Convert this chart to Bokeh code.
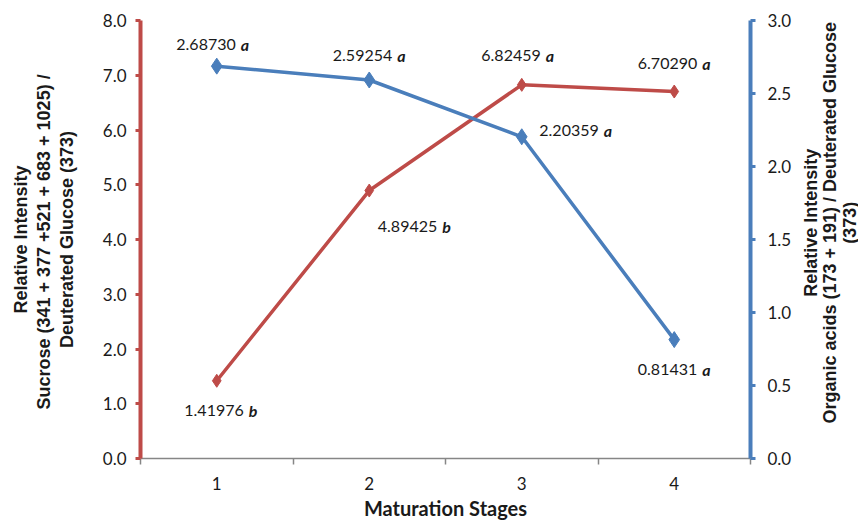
import math
from bokeh.plotting import figure
from bokeh.layouts import row
from bokeh.models import Range1d, LinearAxis, FixedTicker, NumeralTickFormatter, ColumnDataSource
from bokeh.core.properties import value
from bokeh.embed import file_html
from bokeh.resources import INLINE

# ---- data ----
stages = [1, 2, 3, 4]
stage_labels = ["1", "2", "3", "4"]
sucrose = [1.41976, 4.89425, 6.82459, 6.70290]
sucrose_sig = ["b", "b", "a", "a"]
organic = [2.68730, 2.59254, 2.20359, 0.81431]
organic_sig = ["a", "a", "a", "a"]
left_ticks = [0, 1, 2, 3, 4, 5, 6, 7, 8]
right_ticks = [0, 0.5, 1.0, 1.5, 2.0, 2.5, 3.0]
right_title = ["Relative Intensity", "Organic acids (173 + 191) / Deuterated Glucose", "(373)"]

# label placement (screen px)
suc_dx = [27, 68, 19, 23]
suc_dy = [30, 36, -29, -28]
org_dx = [19, 23, 77, 23]
org_dy = [-22, -24, -6, 30]

RED = "#BE4B48"
BLUE = "#4A7EBB"
TXT = "#1a1a1a"

W_MAIN, W_SIDE, H = 794, 64, 522

p = figure(width=W_MAIN, height=H, x_range=Range1d(0.5, 4.5), y_range=Range1d(0, 8),
           output_backend="svg", toolbar_location=None,
           min_border_left=140, min_border_right=44, min_border_top=20, min_border_bottom=63)
p.extra_y_ranges = {"right": Range1d(0, 3)}
p.grid.visible = False
p.outline_line_color = None

# bottom axis
xa = p.xaxis[0]
xa.ticker = FixedTicker(ticks=stages, minor_ticks=[0.5, 1.5, 2.5, 3.5, 4.5])
xa.major_label_overrides = {s: l for s, l in zip(stages, stage_labels)}
xa.major_tick_line_color = None
xa.major_tick_out = 0
xa.major_tick_in = 0
xa.minor_tick_line_color = "#868686"
xa.minor_tick_line_width = 1.5
xa.minor_tick_out = 6
xa.minor_tick_in = 0
xa.axis_line_color = "#868686"
xa.axis_line_width = 1.5
xa.major_label_text_font = "Lato"
xa.major_label_text_font_size = "17px"
xa.major_label_text_color = TXT
xa.major_label_standoff = 12
xa.axis_label = "Maturation Stages"
xa.axis_label_text_font = "Lato"
xa.axis_label_text_font_style = "bold"
xa.axis_label_text_font_size = "20px"
xa.axis_label_text_color = TXT
xa.axis_label_standoff = 3

# left axis
ya = p.yaxis[0]
ya.ticker = FixedTicker(ticks=left_ticks)
ya.formatter = NumeralTickFormatter(format="0.0")
ya.axis_line_color = RED
ya.axis_line_width = 4
ya.major_tick_line_color = RED
ya.major_tick_line_width = 3
ya.major_tick_out = 5
ya.major_tick_in = 0
ya.minor_tick_line_color = None
ya.major_label_text_font = "Lato"
ya.major_label_text_font_size = "17px"
ya.major_label_text_color = TXT
ya.major_label_standoff = 9
ya.axis_label = "Relative Intensity\nSucrose (341 + 377 +521  + 683 + 1025) /\nDeuterated Glucose (373)"
ya.axis_label_text_font = "Liberation Sans"
ya.axis_label_text_font_style = "bold"
ya.axis_label_text_font_size = "18px"
ya.axis_label_text_line_height = 1.15
ya.axis_label_text_color = TXT
ya.axis_label_text_align = "center"
ya.axis_label_standoff = 23

# right axis
ra = LinearAxis(y_range_name="right")
ra.ticker = FixedTicker(ticks=right_ticks)
ra.formatter = NumeralTickFormatter(format="0.0")
ra.axis_line_color = BLUE
ra.axis_line_width = 4
ra.major_tick_line_color = BLUE
ra.major_tick_line_width = 3
ra.major_tick_out = 5
ra.major_tick_in = 0
ra.minor_tick_line_color = None
ra.major_label_text_font = "Lato"
ra.major_label_text_font_size = "17px"
ra.major_label_text_color = TXT
ra.major_label_standoff = 12
p.add_layout(ra, "right")

# sources
suc_src = ColumnDataSource(dict(
    x=stages, y=sucrose,
    num=[f"{v:.5f}" for v in sucrose], sig=sucrose_sig,
    ndx=suc_dx, ldx=[d + 5 for d in suc_dx], dy=suc_dy))
org_src = ColumnDataSource(dict(
    x=stages, y=organic,
    num=[f"{v:.5f}" for v in organic], sig=organic_sig,
    ndx=org_dx, ldx=[d + 5 for d in org_dx], dy=org_dy))

# series
p.line("x", "y", source=suc_src, line_color=RED, line_width=3.5)
p.scatter("x", "y", source=suc_src, marker="diamond", size=13, fill_color=RED, line_color=RED)
p.line("x", "y", source=org_src, line_color=BLUE, line_width=3.5, y_range_name="right")
p.scatter("x", "y", source=org_src, marker="diamond", size=16, fill_color=BLUE, line_color=BLUE,
          y_range_name="right")

for src, rng in ((suc_src, "default"), (org_src, "right")):
    kw = {} if rng == "default" else {"y_range_name": "right"}
    p.text("x", "y", text="num", source=src, x_offset="ndx", y_offset="dy",
           text_align="right", text_baseline="middle",
           text_font=value("Lato"), text_font_size="16px", text_color=TXT, **kw)
    p.text("x", "y", text="sig", source=src, x_offset="ldx", y_offset="dy",
           text_align="left", text_baseline="middle",
           text_font=value("Lato"), text_font_size="16px", text_font_style="bold italic",
           text_color=TXT, **kw)

# side panel carrying the right-axis title (reads bottom-to-top)
side = figure(width=W_SIDE, height=H, x_range=Range1d(0, W_SIDE), y_range=Range1d(0, H),
              output_backend="svg", toolbar_location=None,
              x_axis_location=None, y_axis_location=None, min_border=0)
side.grid.visible = False
side.outline_line_color = None
side.text(x=[16, 35.5, 55], y=[H - 241] * 3, text=right_title, angle=math.pi / 2,
          text_align="center", text_baseline="middle",
          text_font=value("Liberation Sans"), text_font_style="bold",
          text_font_size="18px", text_color=TXT)

layout = row(p, side, spacing=0)
open("out.html", "w").write(file_html(layout, INLINE))
